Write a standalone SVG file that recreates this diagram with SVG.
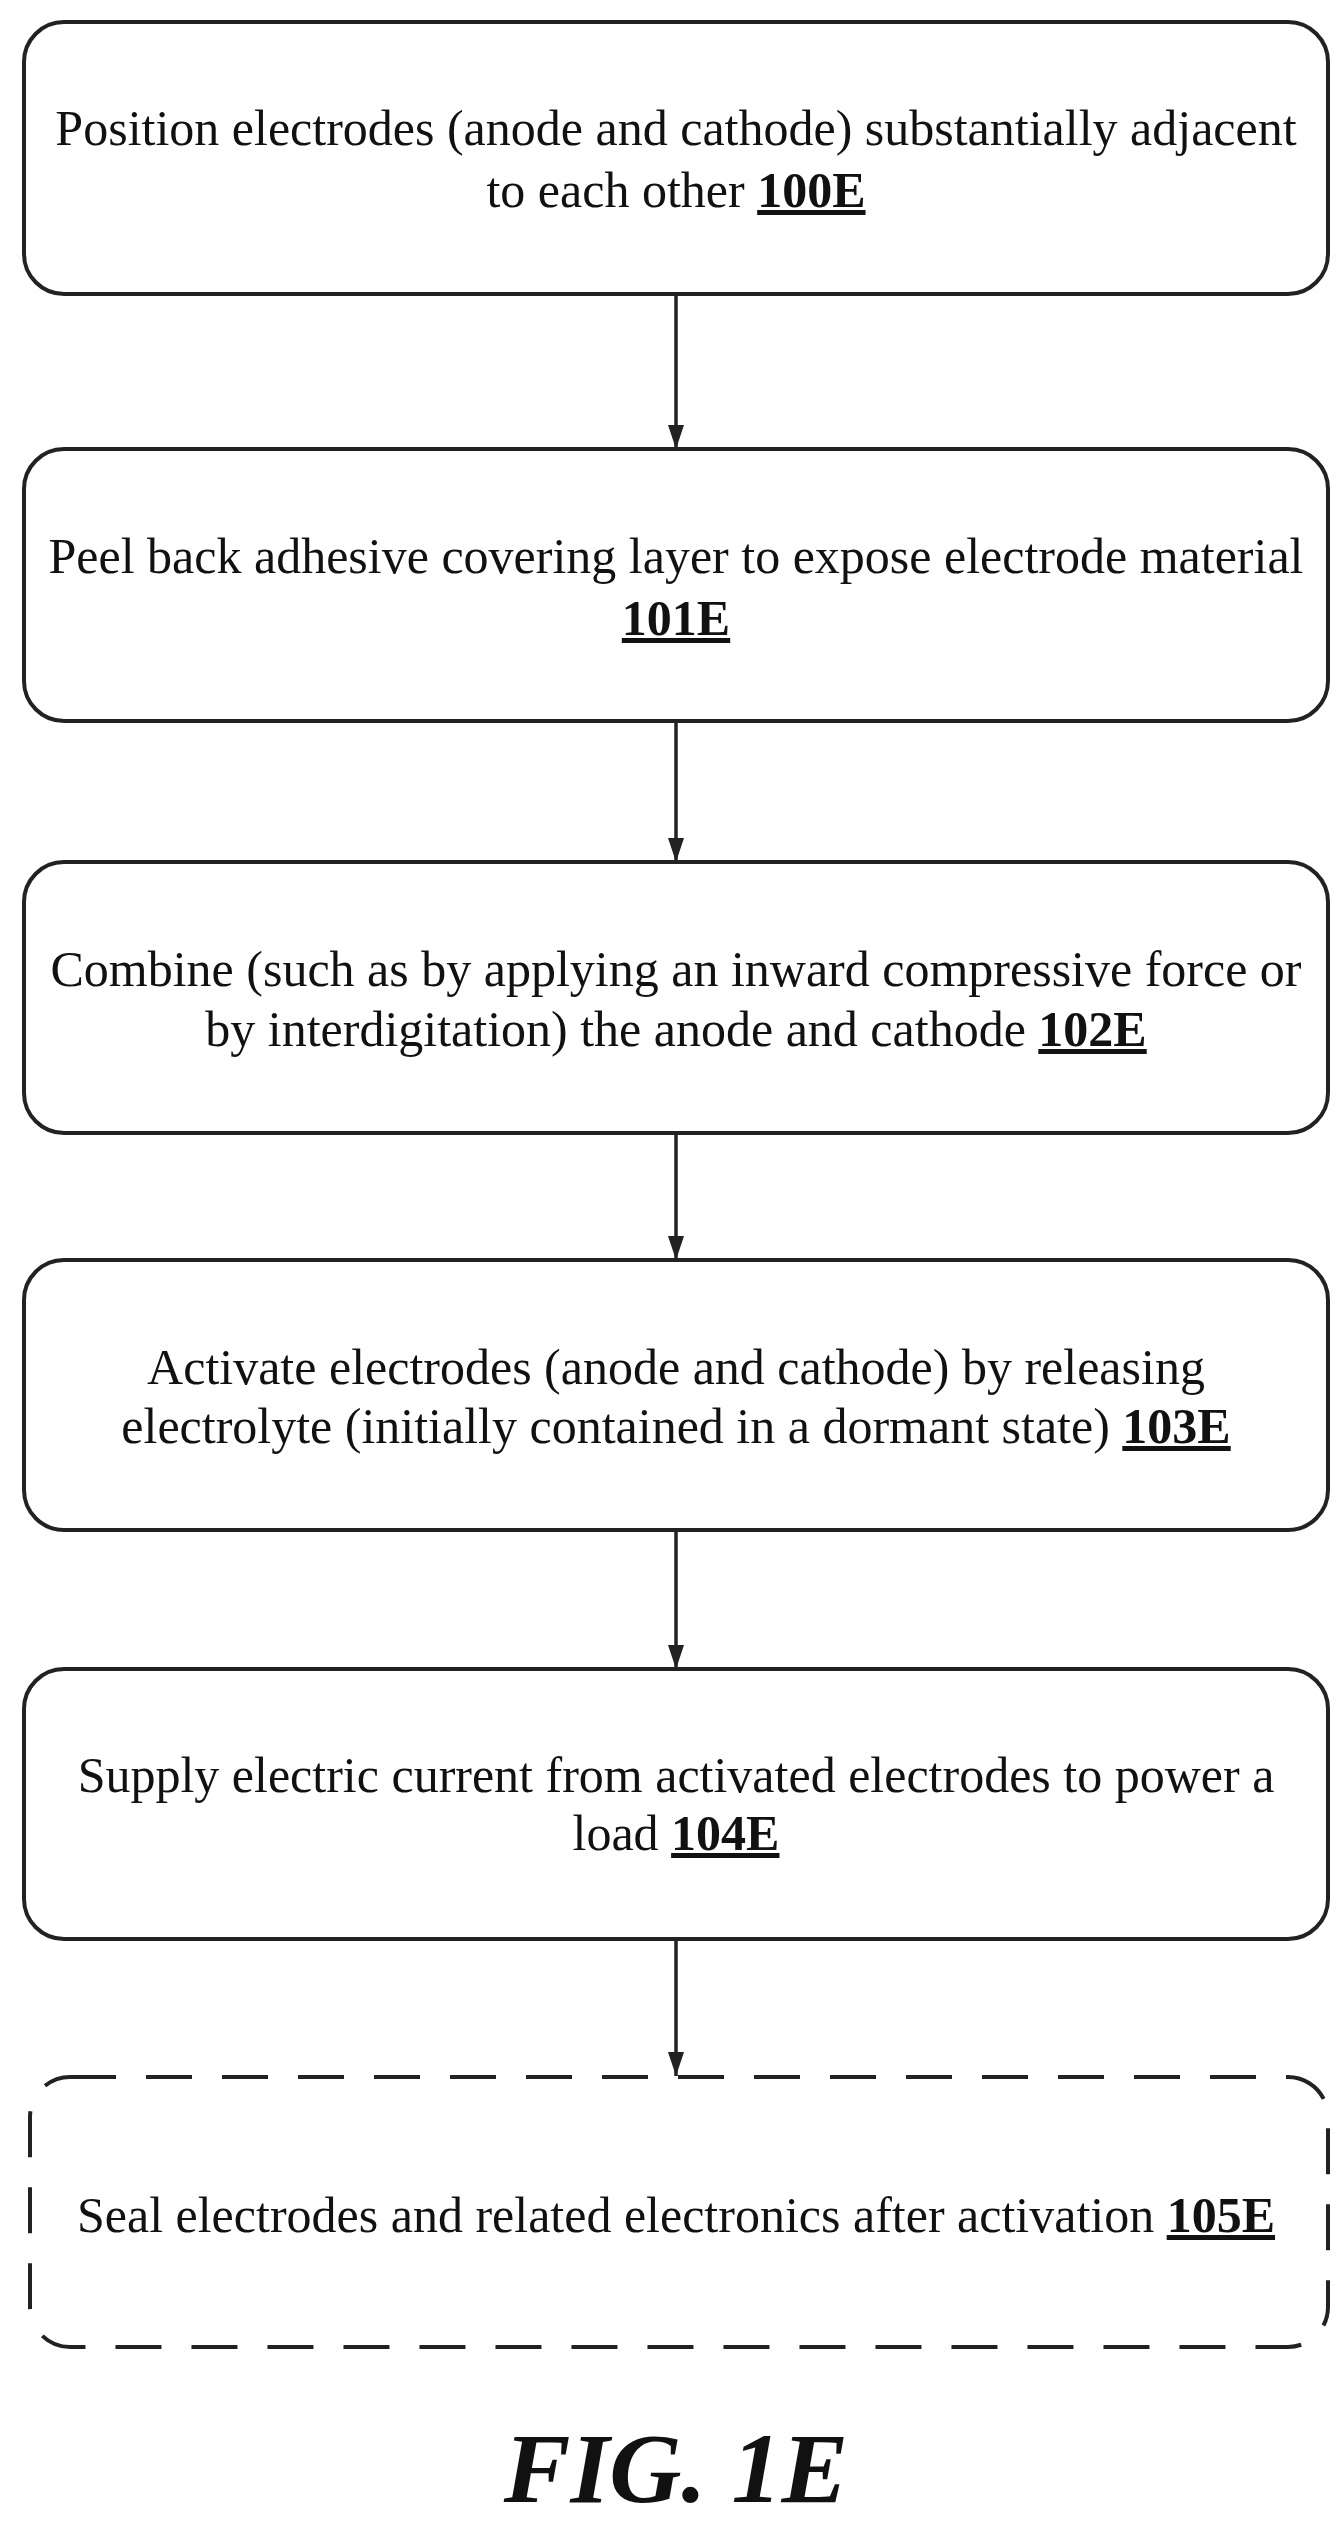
<svg xmlns="http://www.w3.org/2000/svg" width="1342" height="2522" viewBox="0 0 1342 2522">
<style>
.b{fill:#fff;stroke:#222;stroke-width:4}
.d{stroke-dasharray:46 30}
text{font-family:"Liberation Serif","Times New Roman",serif;font-size:50px;fill:#111;text-anchor:middle}
.r{font-weight:bold;text-decoration:underline}
.c{stroke:#222;stroke-width:3.5;fill:none}
</style>
<defs><marker id="m" markerWidth="24" markerHeight="16" refX="24" refY="8" orient="auto" markerUnits="userSpaceOnUse"><path d="M0,0 L24,8 L0,16 Z" fill="#222"/></marker></defs>
<g id="connectors">
<line class="c" x1="676" y1="294" x2="676" y2="449" marker-end="url(#m)"/>
<line class="c" x1="676" y1="721" x2="676" y2="862" marker-end="url(#m)"/>
<line class="c" x1="676" y1="1133" x2="676" y2="1260" marker-end="url(#m)"/>
<line class="c" x1="676" y1="1530" x2="676" y2="1669" marker-end="url(#m)"/>
<line class="c" x1="676" y1="1939" x2="676" y2="2076" marker-end="url(#m)"/>
</g>
<g id="n100"><rect class="b" x="24" y="22" width="1304" height="272" rx="40"/>
<text x="676" y="145">Position electrodes (anode and cathode) substantially adjacent</text>
<text x="676" y="207">to each other <tspan class="r">100E</tspan></text></g>
<g id="n101"><rect class="b" x="24" y="449" width="1304" height="272" rx="40"/>
<text x="676" y="573">Peel back adhesive covering layer to expose electrode material</text>
<text x="676" y="635" class="r">101E</text></g>
<g id="n102"><rect class="b" x="24" y="862" width="1304" height="271" rx="40"/>
<text x="676" y="986">Combine (such as by applying an inward compressive force or</text>
<text x="676" y="1046">by interdigitation) the anode and cathode <tspan class="r">102E</tspan></text></g>
<g id="n103"><rect class="b" x="24" y="1260" width="1304" height="270" rx="40"/>
<text x="676" y="1384">Activate electrodes (anode and cathode) by releasing</text>
<text x="676" y="1443">electrolyte (initially contained in a dormant state) <tspan class="r">103E</tspan></text></g>
<g id="n104"><rect class="b" x="24" y="1669" width="1304" height="270" rx="40"/>
<text x="676" y="1792">Supply electric current from activated electrodes to power a</text>
<text x="676" y="1850">load <tspan class="r">104E</tspan></text></g>
<g id="n105"><rect class="b d" x="30" y="2077" width="1298" height="270" rx="40"/>
<text x="676" y="2232">Seal electrodes and related electronics after activation <tspan class="r">105E</tspan></text></g>
<text x="676" y="2502" style="font-size:100px;font-weight:bold;font-style:italic">FIG. 1E</text>
</svg>
